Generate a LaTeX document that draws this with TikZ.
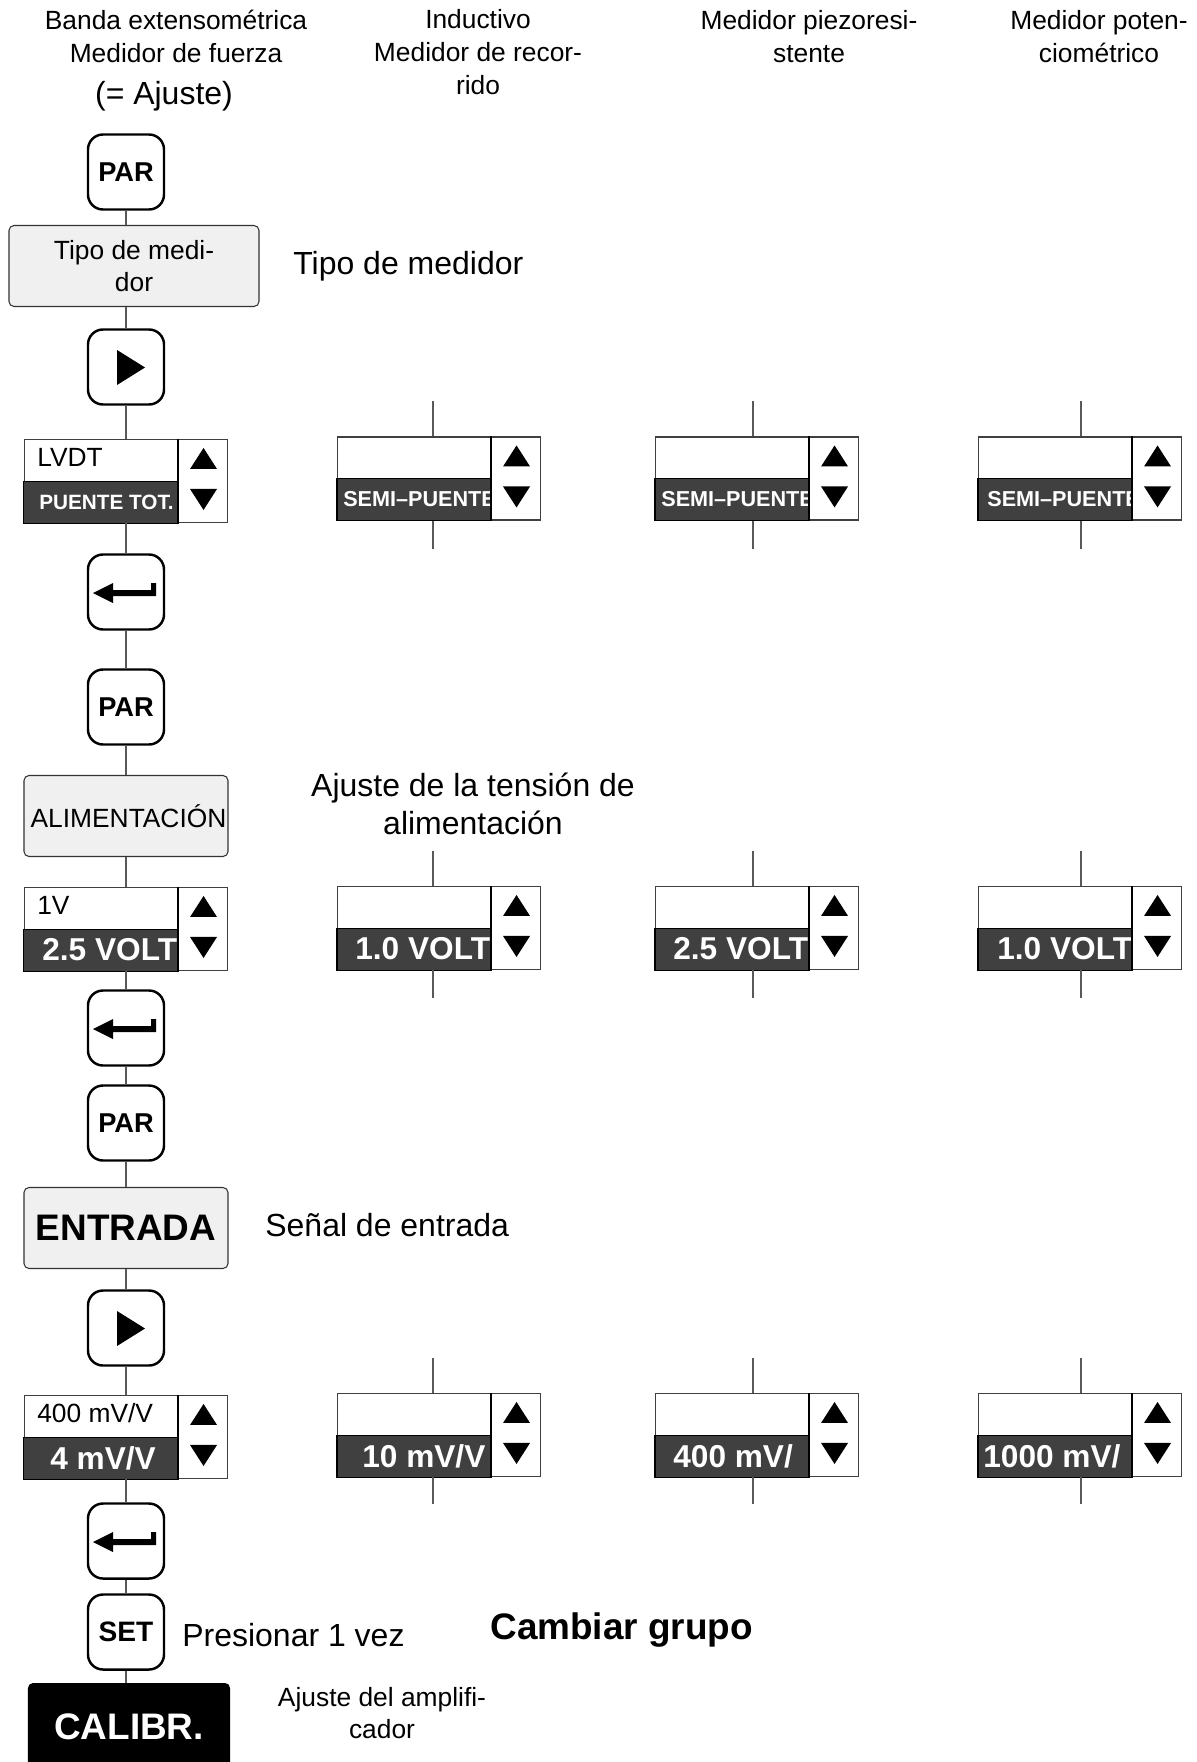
\documentclass[tikz,border=0pt]{standalone}
\usepackage{fontspec}
\setmainfont{Liberation Sans}
\usetikzlibrary{calc}

% pantalla con valor: nombre, centro, texto arriba, valor, sangria, tamaño
\newcommand{\pantalla}[6]{%
  \node[pantalla] (#1) at (#2) {};
  \coordinate (#1sw) at (#1.south west);
  \fill[oscuro] (#1sw) rectangle ++(154,-42);
  \begin{scope}
    \clip (#1sw) rectangle ++(154,-42);
    \node[valor, font=\bfseries\fontsize{#6}{#6}\selectfont] at ($(#1sw)+(#5,-21)$) {#4};
  \end{scope}
  \draw[borde] (#1sw) rectangle ++(154,-42);
  \draw[borde] ($(#1.north west)+(154,0)$) -- ++(0,83);
  \node[arriba] at ($(#1.north west)+(13,18)$) {#3};
  \fill ($(#1.north east)+(-38,30)$) -- ++(27,0) -- ++(-13.5,-21) -- cycle;
  \fill ($(#1.north east)+(-38,50)$) -- ++(27,0) -- ++(-13.5,21) -- cycle;
}

\begin{document}
\begin{tikzpicture}[x=0.2mm, y=-0.2mm,
  linea/.style={draw=black!65, line width=0.7pt},
  tecla/.style={draw, line width=1.4pt, rounded corners=3mm, fill=white,
    minimum width=15.2mm, minimum height=15mm, inner sep=0pt,
    font=\bfseries\fontsize{15.5}{18}\selectfont},
  menu/.style={draw=black!80, line width=0.6pt, rounded corners=1mm, fill=black!6,
    minimum width=40.8mm, minimum height=16.2mm, inner sep=0pt, align=center,
    font=\fontsize{15}{18}\selectfont},
  pantalla/.style={draw=black!75, line width=0.6pt, fill=white,
    minimum width=40.6mm, minimum height=16.6mm, inner sep=0pt},
  oscuro/.style={fill=black!75},
  borde/.style={draw=black, line width=0.6pt},
  valor/.style={anchor=west, inner sep=0pt, text=white},
  arriba/.style={anchor=west, inner sep=0pt, font=\fontsize{15}{18}\selectfont},
  titulo/.style={align=center, inner sep=0pt, font=\fontsize{15}{18.8}\selectfont},
  texto/.style={inner sep=0pt, font=\fontsize{18.2}{21.6}\selectfont}]

  \useasboundingbox (0,0) rectangle (1197,1762);

  % cabeceras
  \node[titulo] (h1) at (176,36.5) {Banda extensométrica\\Medidor de fuerza};
  \node[texto] (h1b) at (164,96) {(= Ajuste)};
  \node[titulo] (h2) at (478,52.5) {Inductivo\\Medidor de recor-\\rido};
  \node[titulo] (h3) at (809,36.5) {Medidor piezoresi-\\stente};
  \node[titulo] (h4) at (1099,36.5) {Medidor poten-\\ciométrico};

  % columna de teclas
  \node[tecla] (par1) at (126,172) {PAR};
  \node[menu, minimum width=50mm] (tipo) at (134,266) {Tipo de medi-\\dor};
  \node[tecla] (play1) at (126,367) {};
  \node[tecla] (enter1) at (126,592) {};
  \node[tecla] (par2) at (126,707) {PAR};
  \node[menu] (alim) at (126,816) {\hspace*{1mm}ALIMENTACIÓN};
  \node[tecla] (enter2) at (126,1028) {};
  \node[tecla] (par3) at (126,1123) {PAR};
  \node[menu, font=\bfseries\fontsize{21}{24}\selectfont] (entrada) at (126,1228) {ENTRADA};
  \node[tecla] (play2) at (126,1328) {};
  \node[tecla] (enter3) at (126,1541) {};
  \node[tecla, font=\bfseries\fontsize{16}{18}\selectfont] (set) at (126,1632) {SET};
  \node[fill=black, rounded corners=1mm, minimum width=40.4mm, minimum height=17.6mm,
    text=white, font=\bfseries\fontsize{21}{24}\selectfont] (calibr) at (129,1727) {CALIBR.};

  % simbolos de las teclas
  \foreach \t in {play1, play2}
    \fill ($(\t)+(-9,-17)$) -- ++(0,35) -- ++(28,-17.5) -- cycle;
  \foreach \t in {enter1, enter2, enter3}
    \fill ($(\t)+(-33,1)$) -- ++(20,-10) -- ++(0,7) -- ++(38,0) -- ++(0,-7)
      -- ++(5,0) -- ++(0,13) -- ++(-43,0) -- ++(0,7) -- cycle;

  % pantallas
  \pantalla{d1a}{126,481}{LVDT}{PUENTE TOT.}{15}{11.8}
  \pantalla{d1b}{439,478.5}{}{SEMI–PUENTE}{6}{12.3}
  \pantalla{d1c}{757,478.5}{}{SEMI–PUENTE}{6}{12.3}
  \pantalla{d1d}{1080,478.5}{}{SEMI–PUENTE}{9}{12.3}

  \pantalla{d2a}{126,929}{1V}{2.5 VOLT}{18}{18}
  \pantalla{d2b}{439,928}{}{1.0 VOLT}{18}{18}
  \pantalla{d2c}{757,928}{}{2.5 VOLT}{18}{18}
  \pantalla{d2d}{1080,928}{}{1.0 VOLT}{19}{18}

  \pantalla{d3a}{126,1437}{400 mV/V}{4 mV/V}{26}{18}
  \pantalla{d3b}{439,1435}{}{10 mV/V}{25}{18}
  \pantalla{d3c}{757,1435}{}{400 mV/}{18}{18}
  \pantalla{d3d}{1080,1435}{}{1000 mV/}{5}{18}

  % lineas
  \draw[linea] (par1) -- (par1 |- tipo.north);
  \draw[linea] (par1 |- tipo.south) -- (play1) -- (d1a) -- (enter1) -- (par2) -- (alim)
    -- (d2a) -- (enter2) -- (par3) -- (entrada) -- (play2) -- (d3a) -- (enter3) -- (set)
    -- (set |- calibr.north);
  \foreach \c/\x in {b/433, c/753, d/1081} {
    \coordinate (p1\c) at (\x,401);  \coordinate (q1\c) at (\x,549);
    \coordinate (p2\c) at (\x,851);  \coordinate (q2\c) at (\x,998);
    \coordinate (p3\c) at (\x,1358); \coordinate (q3\c) at (\x,1504);
    \foreach \r in {1,2,3} {
      \draw[linea] (p\r\c) -- (p\r\c |- d\r\c.north);
      \draw[linea] (p\r\c |- d\r\c.south) -- (q\r\c);
    }
  }

  % textos
  \node[texto, anchor=west] (l1) at (293,266) {Tipo de medidor};
  \node[texto, align=center] (l2) at (473,804) {Ajuste de la tensión de\\alimentación};
  \node[texto, anchor=west] (l3) at (265,1225) {Señal de entrada};
  \node[texto, anchor=west] (l4) at (182,1635) {Presionar 1 vez};
  \node[texto, anchor=west, font=\bfseries\fontsize{21}{24}\selectfont] (l5) at (490,1630) {Cambiar grupo};
  \node[titulo, font=\fontsize{15}{18}\selectfont] (l6) at (382,1713) {Ajuste del amplifi-\\cador};
\end{tikzpicture}
\end{document}
